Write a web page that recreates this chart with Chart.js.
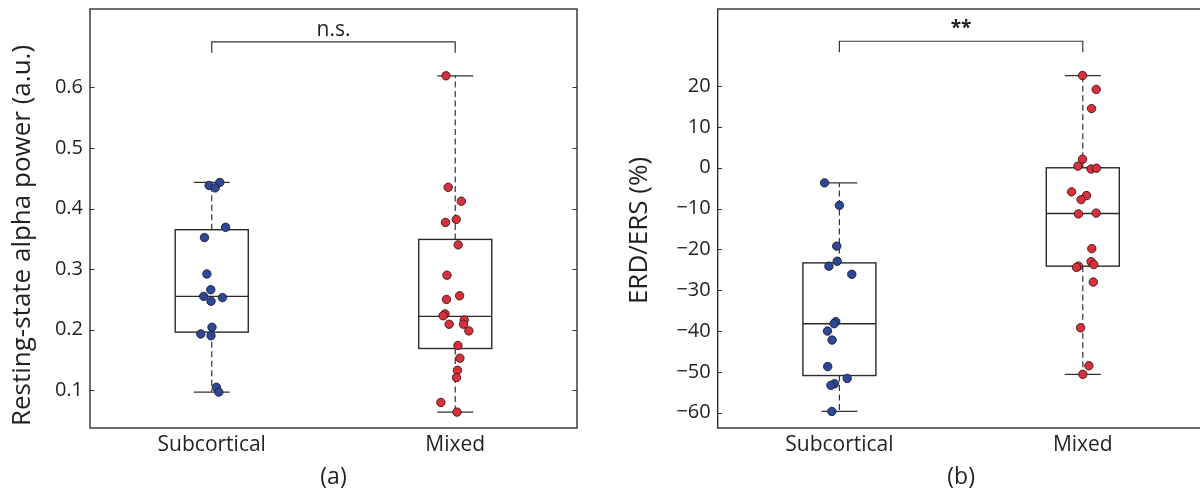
<!DOCTYPE html>
<html><head><meta charset="utf-8">
<script src="https://cdn.jsdelivr.net/npm/chart.js@4.4.1/dist/chart.umd.min.js"></script>
<style>
html,body{margin:0;padding:0;background:#fff;overflow:hidden}
#wrap{position:relative;width:1200px;height:491px;overflow:hidden;background:#fff}
canvas{position:absolute;top:0}
</style></head><body>
<div id="wrap">
<canvas id="ca" width="600" height="491" style="left:0"></canvas>
<canvas id="cb" width="620" height="491" style="left:600px"></canvas>
</div>
<script>
// ---------- data ----------
const categories = ['Subcortical', 'Mixed'];
const panelLabels = ['(a)', '(b)'];
const significance = ['n.s.', '**'];
const yTitles = ['Resting-state alpha power (a.u.)', 'ERD/ERS (%)'];
const alphaTicks = [0.1, 0.2, 0.3, 0.4, 0.5, 0.6];
const erdTicks = [-60, -50, -40, -30, -20, -10, 0, 10, 20];

// Resting-state alpha power (a.u.)
const alphaSubcortical = [0.438, 0.443, 0.434, 0.369, 0.352, 0.292, 0.266, 0.255, 0.253, 0.247, 0.204, 0.193, 0.190, 0.105, 0.097];
const alphaSubcorticalJitter = [-0.011, 0.033, 0.014, 0.057, -0.030, -0.020, -0.004, -0.033, 0.044, -0.003, 0.001, -0.045, -0.003, 0.019, 0.029];
const alphaMixed = [0.619, 0.435, 0.412, 0.377, 0.382, 0.340, 0.290, 0.250, 0.256, 0.226, 0.223, 0.216, 0.209, 0.209, 0.198, 0.174, 0.153, 0.133, 0.121, 0.080, 0.064];
const alphaMixedJitter = [-0.038, -0.029, 0.025, -0.040, 0.004, 0.012, -0.034, -0.036, 0.018, -0.042, -0.050, 0.037, -0.025, 0.034, 0.056, 0.011, 0.019, 0.009, 0.005, -0.059, 0.007];
// box stats: [lower whisker, Q1, median, Q3, upper whisker]
const alphaBoxSubcortical = [0.097, 0.196, 0.255, 0.365, 0.443];
const alphaBoxMixed = [0.064, 0.169, 0.222, 0.349, 0.619];

// ERD/ERS (%)
const erdSubcortical = [-3.7, -9.2, -19.2, -22.9, -24.1, -26.1, -37.7, -38.2, -40.0, -42.2, -48.7, -51.6, -52.9, -53.3, -59.7];
const erdSubcorticalJitter = [-0.061, 0.000, -0.011, -0.009, -0.043, 0.051, -0.015, -0.022, -0.049, -0.030, -0.048, 0.032, -0.020, -0.035, -0.031];
const erdMixed = [22.6, 19.2, 14.5, 2.1, 0.4, -0.3, -0.1, -5.9, -6.8, -7.8, -11.3, -11.1, -19.8, -23.0, -23.7, -24.1, -24.4, -28.0, -39.2, -48.5, -50.6];
const erdMixedJitter = [-0.001, 0.055, 0.036, -0.001, -0.020, 0.034, 0.056, -0.046, 0.015, -0.007, -0.018, 0.055, 0.037, 0.034, 0.045, -0.018, -0.026, 0.043, -0.009, 0.025, 0.000];
const erdBoxSubcortical = [-59.7, -50.9, -38.2, -23.3, -3.7];
const erdBoxMixed = [-50.6, -24.1, -11.2, 0.0, 22.6];

// ---------- rendering ----------
const FONT = '"Open Sans", "Noto Sans", sans-serif';
const TEXT = '#231f20';
Chart.defaults.font.family = FONT;
Chart.defaults.color = TEXT;

const boxPlugin = {
  id: 'boxes',
  beforeDatasetsDraw(chart, args, opts) {
    const {ctx, chartArea: a, scales: {x, y}} = chart;
    const px = v => x.getPixelForValue(v), py = v => y.getPixelForValue(v);
    ctx.save();
    // frame
    ctx.strokeStyle = TEXT; ctx.lineWidth = 1.3;
    ctx.strokeRect(a.left, a.top, a.right - a.left, a.bottom - a.top);
    // inward ticks
    ctx.lineWidth = 1; ctx.strokeStyle = '#333';
    ctx.beginPath();
    y.ticks.forEach(t => {
      const yy = Math.round(py(t.value)) + 0.5;
      ctx.moveTo(a.left, yy); ctx.lineTo(a.left + 4.5, yy);
      ctx.moveTo(a.right, yy); ctx.lineTo(a.right - 4.5, yy);
    });
    ctx.stroke();
    // boxes
    opts.boxes.forEach((s, i) => {
      const c = i + 1;
      const [lo, q1, med, q3, hi] = s;
      const xc = px(c);
      ctx.strokeStyle = '#333'; ctx.lineWidth = 1.2;
      ctx.setLineDash([6, 3.5]);
      ctx.beginPath();
      ctx.moveTo(xc, py(q3)); ctx.lineTo(xc, py(hi));
      ctx.moveTo(xc, py(q1)); ctx.lineTo(xc, py(lo));
      ctx.stroke();
      ctx.setLineDash([]);
      ctx.beginPath();
      ctx.moveTo(px(c - opts.capHalf), py(hi)); ctx.lineTo(px(c + opts.capHalf), py(hi));
      ctx.moveTo(px(c - opts.capHalf), py(lo)); ctx.lineTo(px(c + opts.capHalf), py(lo));
      ctx.stroke();
      ctx.strokeStyle = '#2a2a2a'; ctx.lineWidth = 1.4;
      const l = px(c - opts.boxHalf), r = px(c + opts.boxHalf);
      ctx.strokeRect(l, py(q3), r - l, py(q1) - py(q3));
      ctx.beginPath(); ctx.moveTo(l, py(med)); ctx.lineTo(r, py(med)); ctx.stroke();
    });
    // significance bracket
    const b = opts.bracket;
    ctx.strokeStyle = '#333'; ctx.lineWidth = 1.2;
    ctx.beginPath();
    ctx.moveTo(px(1), py(b.foot)); ctx.lineTo(px(1), py(b.top));
    ctx.lineTo(px(2), py(b.top)); ctx.lineTo(px(2), py(b.foot));
    ctx.stroke();
    ctx.fillStyle = TEXT; ctx.font = b.font; ctx.textAlign = 'center'; ctx.textBaseline = 'alphabetic';
    ctx.fillText(b.label, (px(1) + px(2)) / 2, py(b.top) - b.gap);
    // rotated y-axis title
    const t = opts.ytitle;
    ctx.translate(t.x, (a.top + a.bottom) / 2 + t.dy);
    ctx.rotate(-Math.PI / 2);
    ctx.font = '26px ' + FONT; ctx.textBaseline = 'middle';
    ctx.fillText(t.text, 0, 0);
    ctx.restore();
  }
};

function scatterData(vals, jit, c) { return vals.map((v, i) => ({x: c + jit[i], y: v})); }

function makeChart(id, p) {
  return new Chart(document.getElementById(id), {
    type: 'scatter',
    data: {
      datasets: [
        {data: scatterData(p.sub, p.subJ, 1), backgroundColor: '#2e4898', borderColor: '#1c1c30', borderWidth: 0.9, pointRadius: 4.2},
        {data: scatterData(p.mix, p.mixJ, 2), backgroundColor: '#d9303c', borderColor: '#3a1616', borderWidth: 0.9, pointRadius: 4.2}
      ]
    },
    options: {
      responsive: false, animation: false, events: [],
      layout: {padding: {left: 0, top: 9, right: p.padRight, bottom: 0}},
      plugins: {legend: {display: false}, tooltip: {enabled: false},
        boxes: {boxes: p.boxes, boxHalf: 0.15, capHalf: 0.074, bracket: p.bracket, ytitle: p.ytitle}},
      scales: {
        x: {
          type: 'linear', min: 0.5, max: 2.5,
          afterBuildTicks: s => { s.ticks = [{value: 1}, {value: 2}]; },
          afterFit: s => { s.height = 63; s.paddingLeft = 0; s.paddingRight = 0; },
          grid: {display: false, drawTicks: false}, border: {display: false},
          ticks: {autoSkip: false, maxRotation: 0, padding: 4, font: {size: 21}, color: TEXT,
            callback: v => categories[Math.round(v) - 1]},
          title: {display: true, text: p.label, font: {size: 23}, color: TEXT, padding: {top: 0, bottom: 0}}
        },
        y: {
          min: p.min, max: p.max,
          afterBuildTicks: s => { s.ticks = p.ticks.map(v => ({value: v})); },
          afterFit: s => { s.width = p.yWidth; s.paddingTop = 0; s.paddingBottom = 0; },
          grid: {display: false, drawTicks: false}, border: {display: false},
          ticks: {padding: 7, font: {size: 20}, color: TEXT, callback: p.fmt},
          title: {display: false}
        }
      }
    },
    plugins: [boxPlugin]
  });
}

makeChart('ca', {
  sub: alphaSubcortical, subJ: alphaSubcorticalJitter, mix: alphaMixed, mixJ: alphaMixedJitter,
  boxes: [alphaBoxSubcortical, alphaBoxMixed],
  ticks: alphaTicks, min: 0.0378, max: 0.7292,
  fmt: v => Number(v).toFixed(1),
  label: panelLabels[0],
  yWidth: 90, padRight: 23,
  ytitle: {text: yTitles[0], x: 23, dy: 17},
  bracket: {top: 0.675, foot: 0.657, label: significance[0], font: '21px ' + FONT, gap: 6}
});

makeChart('cb', {
  sub: erdSubcortical, subJ: erdSubcorticalJitter, mix: erdMixed, mixJ: erdMixedJitter,
  boxes: [erdBoxSubcortical, erdBoxMixed],
  ticks: erdTicks, min: -63.75, max: 38.9,
  fmt: v => String(v).replace('-', '\u2212'),
  label: panelLabels[1],
  yWidth: 117.7, padRight: 15.5,
  ytitle: {text: yTitles[1], x: 40, dy: 12},
  bracket: {top: 31.0, foot: 28.3, label: significance[1], font: 'bold 19px ' + FONT, gap: 7}
});
</script>
</body></html>
